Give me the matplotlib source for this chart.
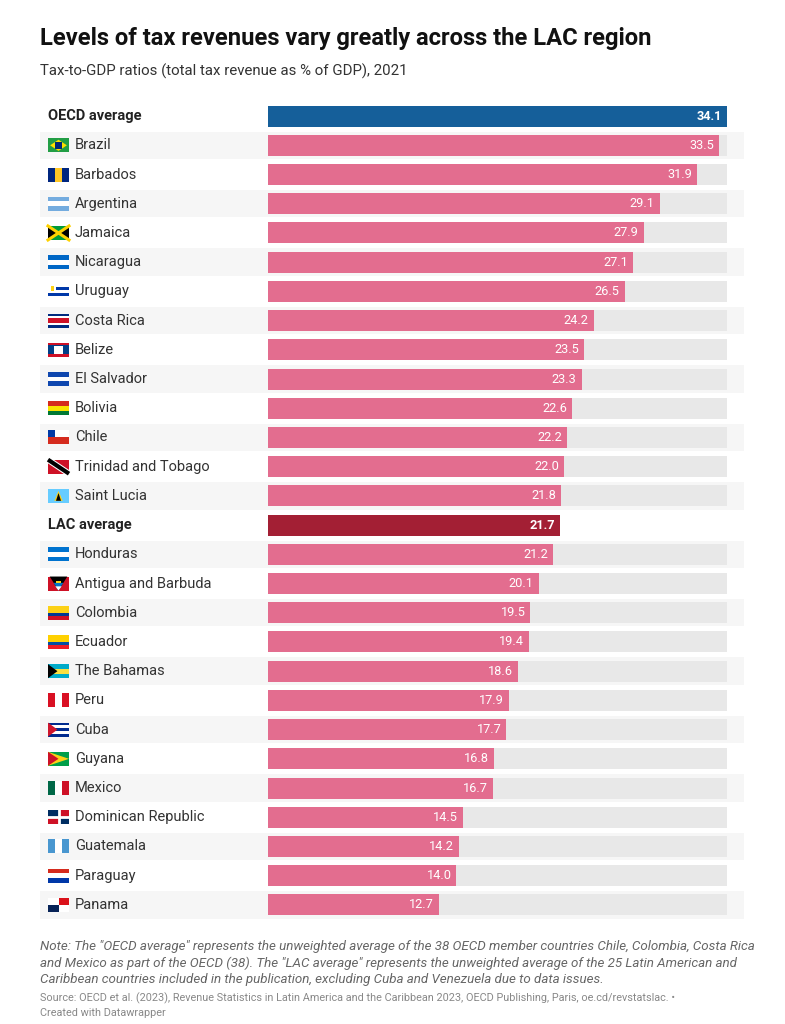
import numpy as np
import matplotlib.pyplot as plt
from matplotlib.patches import Rectangle, Polygon

plt.rcParams['font.family'] = ['Roboto', 'DejaVu Sans']

# Data
countries = ["OECD average", "Brazil", "Barbados", "Argentina", "Jamaica", "Nicaragua",
             "Uruguay", "Costa Rica", "Belize", "El Salvador", "Bolivia", "Chile",
             "Trinidad and Tobago", "Saint Lucia", "LAC average", "Honduras",
             "Antigua and Barbuda", "Colombia", "Ecuador", "The Bahamas", "Peru", "Cuba",
             "Guyana", "Mexico", "Dominican Republic", "Guatemala", "Paraguay", "Panama"]
values = [34.1, 33.5, 31.9, 29.1, 27.9, 27.1, 26.5, 24.2, 23.5, 23.3, 22.6, 22.2,
          22.0, 21.8, 21.7, 21.2, 20.1, 19.5, 19.4, 18.6, 17.9, 17.7, 16.8, 16.7,
          14.5, 14.2, 14.0, 12.7]

# simplified flags: (orientation, stripe colours, optional extra)
flags = {
    "Brazil": ("h", ["#229e45"], "brazil"),
    "Barbados": ("v", ["#00267f", "#ffc726", "#00267f"], None),
    "Argentina": ("h", ["#74acdf", "#ffffff", "#74acdf"], None),
    "Jamaica": ("h", ["#009b3a"], "jamaica"),
    "Nicaragua": ("h", ["#0067c6", "#ffffff", "#0067c6"], None),
    "Uruguay": ("h", ["#ffffff", "#0038a8", "#ffffff", "#0038a8", "#ffffff"], "uruguay"),
    "Costa Rica": ("h", ["#002b7f", "#ffffff", "#ce1126", "#ce1126", "#ffffff", "#002b7f"], None),
    "Belize": ("h", ["#ce1126", "#003f87", "#003f87", "#003f87", "#003f87", "#ce1126"], "belize"),
    "El Salvador": ("h", ["#0f47af", "#ffffff", "#0f47af"], None),
    "Bolivia": ("h", ["#d52b1e", "#f9e300", "#007934"], None),
    "Chile": ("h", ["#ffffff", "#d52b1e"], "chile"),
    "Trinidad and Tobago": ("h", ["#ce1126"], "tt"),
    "Saint Lucia": ("h", ["#66ccff"], "lucia"),
    "Honduras": ("h", ["#0073cf", "#ffffff", "#0073cf"], None),
    "Antigua and Barbuda": ("h", ["#ce1126"], "antigua"),
    "Colombia": ("h", ["#fcd116", "#fcd116", "#003893", "#ce1126"], None),
    "Ecuador": ("h", ["#ffd100", "#ffd100", "#034ea2", "#ed1c24"], None),
    "The Bahamas": ("h", ["#00abc9", "#fae042", "#00abc9"], "bahamas"),
    "Peru": ("v", ["#d91023", "#ffffff", "#d91023"], None),
    "Cuba": ("h", ["#002a8f", "#ffffff", "#002a8f", "#ffffff", "#002a8f"], "cuba"),
    "Guyana": ("h", ["#009e49"], "guyana"),
    "Mexico": ("v", ["#006847", "#ffffff", "#ce1126"], None),
    "Dominican Republic": ("h", ["#002d62"], "dr"),
    "Guatemala": ("v", ["#4997d0", "#ffffff", "#4997d0"], None),
    "Paraguay": ("h", ["#d52b1e", "#ffffff", "#0038a8"], None),
    "Panama": ("h", ["#ffffff"], "panama"),
}

W, H = 785, 1024
fig = plt.figure(figsize=(W / 100, H / 100), dpi=100)

# layout in pixels
ax_left, ax_right = 40, 744
bar0, bar_end = 268, 727
row_top, row_bot = 101.5, 919.5
vmax = max(values)
ppu = (bar_end - bar0) / vmax
xmin = -(bar0 - ax_left) / ppu
xmax = vmax + (ax_right - bar_end) / ppu

ax = fig.add_axes([ax_left / W, 1 - row_bot / H, (ax_right - ax_left) / W, (row_bot - row_top) / H])
n = len(countries)
ax.set_xlim(xmin, xmax)
ax.set_ylim(n - 0.5, -0.5)
ax.axis("off")

def px2x(px):
    return xmin + (px - ax_left) / ppu

row_px = (row_bot - row_top) / n
bh = 21 / row_px

for i, (c, v) in enumerate(zip(countries, values)):
    if i % 2 == 1:
        ax.add_patch(Rectangle((xmin, i - 0.5 + 0.03), xmax - xmin, 0.94, color="#f6f6f6", lw=0, zorder=0))
    if c == "OECD average":
        col = "#155f9a"
    elif c == "LAC average":
        col = "#a31f34"
    else:
        col = "#e36d8f"
        ax.barh(i, vmax, height=bh, color="#e8e8e8", zorder=1)
    ax.barh(i, v, height=bh, color=col, zorder=2)
    bold = c in ("OECD average", "LAC average")
    ax.text(v - 5 / ppu, i, f"{v:.1f}", ha="right", va="center", color="white",
            fontsize=9.2, fontweight="bold" if bold else "normal", zorder=3)
    if bold:
        ax.text(px2x(48), i, c, ha="left", va="center", fontsize=10.5, fontweight="bold", color="#222222")
    else:
        ax.text(px2x(75), i, c, ha="left", va="center", fontsize=10.5, color="#333333")

# draw flags
fx0, fw = px2x(48), 21 / ppu
fh = 14 / row_px
for i, c in enumerate(countries):
    if c not in flags:
        continue
    orient, cols, extra = flags[c]
    top = i - fh / 2
    k = len(cols)
    for j, cc in enumerate(cols):
        if orient == "h":
            ax.add_patch(Rectangle((fx0, top + j * fh / k), fw, fh / k, color=cc, lw=0, zorder=4))
        else:
            ax.add_patch(Rectangle((fx0 + j * fw / k, top), fw / k, fh, color=cc, lw=0, zorder=4))
    x0, x1, xm = fx0, fx0 + fw, fx0 + fw / 2
    y0, y1, ym = top, top + fh, i
    z = 5
    if extra == "brazil":
        ax.add_patch(Polygon([(x0 + fw * 0.1, ym), (xm, y0 + fh * 0.1), (x1 - fw * 0.1, ym), (xm, y1 - fh * 0.1)], color="#fedf00", lw=0, zorder=z))
        ax.add_patch(Rectangle((xm - fw * 0.17, ym - fh * 0.25), fw * 0.34, fh * 0.5, color="#002776", lw=0, zorder=z + 1))
    elif extra == "jamaica":
        ax.add_patch(Polygon([(x0, y0), (xm, ym), (x0, y1)], color="#000000", lw=0, zorder=z))
        ax.add_patch(Polygon([(x1, y0), (xm, ym), (x1, y1)], color="#000000", lw=0, zorder=z))
        ax.plot([x0, x1], [y0, y1], color="#fed100", lw=2.2, zorder=z + 1)
        ax.plot([x0, x1], [y1, y0], color="#fed100", lw=2.2, zorder=z + 1)
    elif extra == "uruguay":
        ax.add_patch(Rectangle((x0, y0), fw * 0.4, fh * 0.6, color="#ffffff", lw=0, zorder=z))
        ax.add_patch(Rectangle((x0 + fw * 0.12, y0 + fh * 0.15), fw * 0.16, fh * 0.3, color="#fcd116", lw=0, zorder=z + 1))
    elif extra == "belize":
        ax.add_patch(Rectangle((xm - fw * 0.2, ym - fh * 0.3), fw * 0.4, fh * 0.6, color="#ffffff", lw=0, zorder=z))
    elif extra == "chile":
        ax.add_patch(Rectangle((x0, y0), fw * 0.35, fh * 0.5, color="#0039a6", lw=0, zorder=z))
    elif extra == "tt":
        ax.plot([x0, x1], [y0, y1], color="#ffffff", lw=4.5, zorder=z, solid_capstyle="butt")
        ax.plot([x0, x1], [y0, y1], color="#000000", lw=3, zorder=z + 1, solid_capstyle="butt")
    elif extra == "lucia":
        ax.add_patch(Polygon([(xm - fw * 0.2, y1 - fh * 0.15), (xm, y0 + fh * 0.15), (xm + fw * 0.2, y1 - fh * 0.15)], color="#fcd116", lw=0, zorder=z))
        ax.add_patch(Polygon([(xm - fw * 0.12, y1 - fh * 0.15), (xm, y0 + fh * 0.3), (xm + fw * 0.12, y1 - fh * 0.15)], color="#000000", lw=0, zorder=z + 1))
    elif extra == "antigua":
        ax.add_patch(Polygon([(x0 + fw * 0.08, y0), (x1 - fw * 0.08, y0), (xm, y1)], color="#000000", lw=0, zorder=z))
        ax.add_patch(Polygon([(x0 + fw * 0.27, y0 + fh * 0.45), (x1 - fw * 0.27, y0 + fh * 0.45), (xm, y1)], color="#0072c6", lw=0, zorder=z + 1))
        ax.add_patch(Polygon([(x0 + fw * 0.35, y0 + fh * 0.7), (x1 - fw * 0.35, y0 + fh * 0.7), (xm, y1)], color="#ffffff", lw=0, zorder=z + 2))
        ax.add_patch(Rectangle((xm - fw * 0.12, y0 + fh * 0.3), fw * 0.24, fh * 0.15, color="#fcd116", lw=0, zorder=z + 1))
    elif extra == "bahamas":
        ax.add_patch(Polygon([(x0, y0), (x0 + fw * 0.45, ym), (x0, y1)], color="#000000", lw=0, zorder=z))
    elif extra == "cuba":
        ax.add_patch(Polygon([(x0, y0), (x0 + fw * 0.45, ym), (x0, y1)], color="#cf142b", lw=0, zorder=z))
    elif extra == "guyana":
        ax.add_patch(Polygon([(x0, y0), (x1, ym), (x0, y1)], color="#fcd116", lw=0, zorder=z))
        ax.add_patch(Polygon([(x0, y0), (xm, ym), (x0, y1)], color="#ce1126", lw=0, zorder=z + 1))
    elif extra == "dr":
        ax.add_patch(Rectangle((xm, y0), fw / 2, fh / 2, color="#ce1126", lw=0, zorder=z))
        ax.add_patch(Rectangle((x0, ym), fw / 2, fh / 2, color="#ce1126", lw=0, zorder=z))
        ax.plot([xm, xm], [y0, y1], color="#ffffff", lw=2, zorder=z + 1)
        ax.plot([x0, x1], [ym, ym], color="#ffffff", lw=2, zorder=z + 1)
    elif extra == "panama":
        ax.add_patch(Rectangle((xm, y0), fw / 2, fh / 2, color="#da121a", lw=0, zorder=z))
        ax.add_patch(Rectangle((x0, ym), fw / 2, fh / 2, color="#072357", lw=0, zorder=z))

# titles
fig.text(40 / W, 1 - 38 / H, "Levels of tax revenues vary greatly across the LAC region",
         fontsize=17.1, fontweight="bold", color="#111111", va="center")
fig.text(40 / W, 1 - 71 / H, "Tax-to-GDP ratios (total tax revenue as % of GDP), 2021",
         fontsize=10.8, color="#333333", va="center")

note = ('Note: The "OECD average" represents the unweighted average of the 38 OECD member countries Chile, Colombia, Costa Rica\n'
        'and Mexico as part of the OECD (38). The "LAC average" represents the unweighted average of the 25 Latin American and\n'
        'Caribbean countries included in the publication, excluding Cuba and Venezuela due to data issues.')
fig.text(40 / W, 1 - 940 / H, note, fontsize=9.6, style="italic", color="#666666", va="top", linespacing=1.32)
source = ('Source: OECD et al. (2023), Revenue Statistics in Latin America and the Caribbean 2023, OECD Publishing, Paris, oe.cd/revstatslac. \u2022\n'
          'Created with Datawrapper')
fig.text(40 / W, 1 - 993 / H, source, fontsize=7.8, color="#888888", va="top", linespacing=1.4)

fig.savefig("out.png", dpi=100)
